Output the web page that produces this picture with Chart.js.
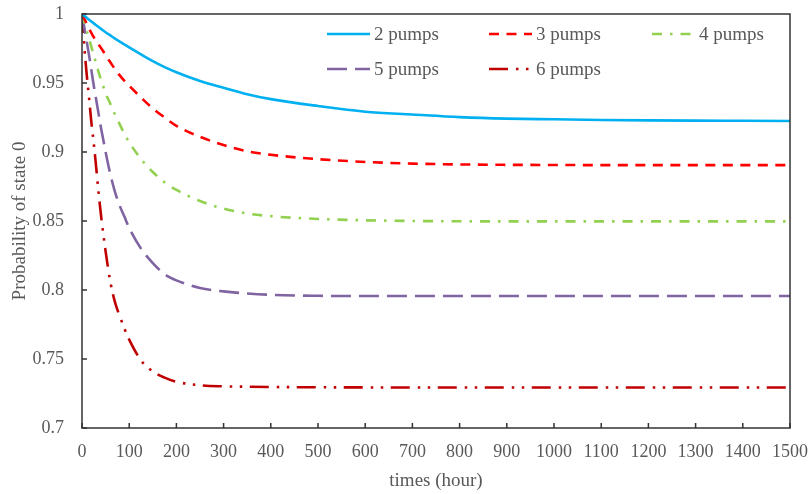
<!DOCTYPE html>
<html>
<head>
<meta charset="utf-8">
<script src="https://cdn.jsdelivr.net/npm/chart.js@4.4.1/dist/chart.umd.min.js"></script>
<style>
  html, body { margin: 0; padding: 0; background: #fff; }
</style>
</head>
<body>
<canvas id="chart" width="811" height="494"></canvas>
<script>
const times = [0, 5, 10, 15, 20, 25, 30, 35, 40, 45, 50, 60, 70, 80, 90, 100, 125, 150, 175, 200,
    250, 300, 350, 400, 500, 600, 700, 800, 900, 1000, 1100, 1200, 1300, 1400, 1500];

const pumps2 = [1.000, 0.9986, 0.9972, 0.9958, 0.9945, 0.9932, 0.9919, 0.9906, 0.9893, 0.9880, 0.9868,
    0.9845, 0.9822, 0.9800, 0.9779, 0.9758, 0.9707, 0.9658, 0.9615, 0.9578,
    0.9515, 0.9466, 0.9419, 0.9383, 0.9333, 0.9292, 0.9272, 0.9253, 0.9242, 0.9237, 0.9232, 0.9229, 0.9227, 0.9226, 0.9225];
const pumps3 = [1.000, 0.9965, 0.9930, 0.9895, 0.9862, 0.9832, 0.9805, 0.9780, 0.9755, 0.9730, 0.9700,
    0.9650, 0.9600, 0.9555, 0.9515, 0.9480, 0.9395, 0.9315, 0.9250, 0.9190,
    0.9110, 0.9050, 0.9005, 0.8980, 0.8948, 0.8928, 0.8916, 0.8910, 0.8907, 0.8906, 0.8905, 0.8905, 0.8905, 0.8905, 0.8905];
const pumps4 = [1.000, 0.9940, 0.9880, 0.9820, 0.9760, 0.9700, 0.9640, 0.9580, 0.9525, 0.9475, 0.9425,
    0.9350, 0.9270, 0.9200, 0.9130, 0.9070, 0.8950, 0.8855, 0.8780, 0.8725,
    0.8645, 0.8590, 0.8555, 0.8535, 0.8515, 0.8505, 0.8500, 0.8498, 0.8497, 0.8497, 0.8497, 0.8497, 0.8497, 0.8497, 0.8497];
const pumps5 = [1.000, 0.9900, 0.9800, 0.9700, 0.9590, 0.9480, 0.9380, 0.9280, 0.9180, 0.9090, 0.9000,
    0.8840, 0.8710, 0.8610, 0.8530, 0.8450, 0.8300, 0.8195, 0.8115, 0.8070,
    0.8015, 0.7990, 0.7975, 0.7965, 0.7958, 0.7956, 0.7956, 0.7956, 0.7956, 0.7956, 0.7956, 0.7956, 0.7956, 0.7956, 0.7956];
const pumps6 = [1.000, 0.9760, 0.9560, 0.9390, 0.9210, 0.9060, 0.8890, 0.8710, 0.8550, 0.8410, 0.8280,
    0.8060, 0.7910, 0.7810, 0.7720, 0.7640, 0.7490, 0.7410, 0.7365, 0.7335,
    0.7310, 0.7302, 0.7299, 0.7297, 0.7295, 0.7294, 0.7293, 0.7293, 0.7293, 0.7293, 0.7293, 0.7293, 0.7293, 0.7293, 0.7293];

const seriesLabels = ['2 pumps', '3 pumps', '4 pumps', '5 pumps', '6 pumps'];
const seriesValues = [pumps2, pumps3, pumps4, pumps5, pumps6];
const seriesColors = ['#00B0F0', '#FF0000', '#92D050', '#8064A2', '#C00000'];
const seriesDashes = [[], [10, 7.5], [10, 8, 2.5, 8], [20, 8], [19, 8, 2.5, 7.5, 2.5, 7.5]];

const textColor = '#595959';
const fontFamily = '"Liberation Serif", "Times New Roman", serif';

// legend sits inside the plot, two rows of three columns
const legendSpots = [[327, 34], [489, 34], [652, 34], [327, 69], [489, 69]];

const insideLegend = {
    id: 'insideLegend',
    afterDatasetsDraw(chart) {
        const ctx = chart.ctx;
        ctx.save();
        ctx.font = '19px ' + fontFamily;
        ctx.textBaseline = 'middle';
        ctx.fillStyle = textColor;
        chart.data.datasets.forEach((ds, i) => {
            const [lx, ly] = legendSpots[i];
            ctx.strokeStyle = ds.borderColor;
            ctx.lineWidth = ds.borderWidth;
            ctx.setLineDash(ds.borderDash);
            ctx.beginPath();
            ctx.moveTo(lx, ly);
            ctx.lineTo(lx + 43, ly);
            ctx.stroke();
            ctx.setLineDash([]);
            ctx.fillText(ds.label, lx + 47, ly + 1);
        });
        ctx.restore();
    }
};

// box round the plot and short tick marks pointing inwards
const frameTicks = {
    id: 'frameTicks',
    afterDatasetsDraw(chart) {
        const { ctx, chartArea: a, scales } = chart;
        ctx.save();
        ctx.strokeStyle = '#333333';
        ctx.lineWidth = 1.5;
        ctx.strokeRect(a.left, a.top, a.right - a.left, a.bottom - a.top);
        ctx.beginPath();
        scales.x.ticks.forEach(t => {
            const px = scales.x.getPixelForValue(t.value);
            ctx.moveTo(px, a.bottom);
            ctx.lineTo(px, a.bottom - 5);
        });
        scales.y.ticks.forEach(t => {
            const py = scales.y.getPixelForValue(t.value);
            ctx.moveTo(a.left, py);
            ctx.lineTo(a.left + 5, py);
        });
        ctx.stroke();
        ctx.restore();
    }
};

const datasets = seriesLabels.map((label, i) => ({
    label,
    data: times.map((t, j) => ({ x: t, y: seriesValues[i][j] })),
    borderColor: seriesColors[i],
    borderWidth: 2.6,
    borderDash: seriesDashes[i],
    pointRadius: 0,
    fill: false,
    cubicInterpolationMode: 'monotone'
}));

new Chart(document.getElementById('chart'), {
    type: 'line',
    data: { datasets },
    options: {
        responsive: false,
        animation: false,
        layout: { padding: { top: 14, right: 21, bottom: 0, left: 0 } },
        plugins: { legend: { display: false }, tooltip: { enabled: false } },
        scales: {
            x: {
                type: 'linear',
                min: 0,
                max: 1500,
                grid: { display: false, drawTicks: true, tickLength: 11 },
                border: { display: false },
                ticks: {
                    stepSize: 100,
                    padding: 2,
                    color: textColor,
                    font: { family: fontFamily, size: 18 },
                    maxRotation: 0,
                    callback: v => String(v)
                },
                title: { display: true, text: 'times (hour)', color: textColor, font: { family: fontFamily, size: 19 }, padding: { top: 0, bottom: 2 } },
                afterFit(scale) { scale.height = 66; }
            },
            y: {
                min: 0.7,
                max: 1,
                grid: { display: false, drawTicks: true, tickLength: 16 },
                border: { display: false },
                ticks: {
                    stepSize: 0.05,
                    padding: 2,
                    color: textColor,
                    font: { family: fontFamily, size: 18 },
                    callback: v => String(+v.toFixed(2))
                },
                title: { display: true, text: 'Probability of state 0', color: textColor, font: { family: fontFamily, size: 19 }, padding: { top: 9, bottom: 0 } },
                afterFit(scale) { scale.width = 82; }
            }
        }
    },
    plugins: [frameTicks, insideLegend]
});
</script>
</body>
</html>
